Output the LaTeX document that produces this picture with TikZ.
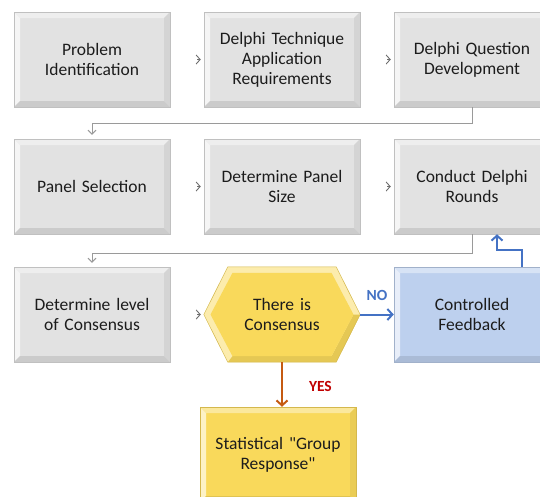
\documentclass[tikz,border=0pt]{standalone}
\usepackage{fontspec}
\setmainfont{Carlito}[Ligatures=TeXOff]
\usetikzlibrary{arrows.meta,calc}
\pgfdeclarelayer{background}
\pgfsetlayers{background,main}

\definecolor{facegray}{HTML}{E2E2E2}
\definecolor{faceyellow}{HTML}{F9D95B}
\definecolor{faceblue}{HTML}{BDD0EE}
\definecolor{linkgray}{HTML}{9A9A9A}
\definecolor{chevgray}{HTML}{6E6E6E}
\definecolor{noblue}{HTML}{4472C4}
\definecolor{yesorange}{HTML}{C55A11}
\definecolor{yesred}{HTML}{C00000}
\definecolor{inktext}{HTML}{1C1C1C}

\tikzset{
  stepbox/.style={rectangle, minimum width=156pt, minimum height=95pt,
    inner sep=2pt, align=center, text width=140pt, text=inktext,
    fill=#1, draw=#1!85!black, line width=0.5pt,
    path picture={
      \path (path picture bounding box.north west) coordinate (bNW)
            (path picture bounding box.north east) coordinate (bNE)
            (path picture bounding box.south west) coordinate (bSW)
            (path picture bounding box.south east) coordinate (bSE);
      % bevelled rim: light top/left, shaded bottom/right
      \fill[#1!60!white] (bNW) -- (bNE) -- ([shift={(-6pt,-6pt)}]bNE)
            -- ([shift={(6pt,-6pt)}]bNW) -- cycle;
      \fill[#1!35!white] (bNW) -- (bSW) -- ([shift={(6pt,6pt)}]bSW)
            -- ([shift={(6pt,-6pt)}]bNW) -- cycle;
      \fill[#1!94!black] (bNE) -- (bSE) -- ([shift={(-6pt,6pt)}]bSE)
            -- ([shift={(-6pt,-6pt)}]bNE) -- cycle;
      \fill[#1!90!black] (bSW) -- (bSE) -- ([shift={(-6pt,6pt)}]bSE)
            -- ([shift={(6pt,6pt)}]bSW) -- cycle;
    }},
  hexbox/.style={rectangle, minimum width=156pt, minimum height=95pt,
    inner sep=2pt, align=center, text width=110pt, text=inktext},
  link/.style={draw=linkgray, line width=0.9pt,
    -{Straight Barb[length=4pt,width=8pt]}},
  chev/.style={draw=chevgray, line width=0.9pt,
    -{Straight Barb[length=4pt,width=9pt]}, shorten <=27pt, shorten >=3pt},
  fb/.style={draw=noblue, line width=2pt,
    -{Straight Barb[length=5pt,width=11pt]}},
  yesarrow/.style={draw=yesorange, line width=2pt,
    -{Straight Barb[length=5pt,width=11pt]}},
  tag/.style={font=\fontsize{15.5}{17}\selectfont\bfseries, inner sep=1pt}
}

\begin{document}
\begin{tikzpicture}[x=1pt,y=-1pt,font=\fontsize{17.5}{20}\selectfont]
\useasboundingbox (0,0) rectangle (540,496);
\clip (0,0) rectangle (540,496);

% first row
\node[stepbox=facegray] (n1) at (92,59.5)  {Problem\\Identification};
\node[stepbox=facegray] (n2) at (282,59.5) {Delphi Technique\\Application\\Requirements};
\node[stepbox=facegray] (n3) at (472,59.5) {Delphi Question\\Development};

% second row
\node[stepbox=facegray] (n4) at (92,186.5)  {Panel Selection};
\node[stepbox=facegray] (n5) at (282,186.5) {Determine Panel\\Size};
\node[stepbox=facegray] (n6) at (472,186.5) {Conduct Delphi\\Rounds};

% third row
\node[stepbox=facegray] (n7) at (92,314.5) {Determine level\\of Consensus};
\node[hexbox] (hex) at (282,314.5) {There is\\Consensus};
\node[stepbox=faceblue] (n9) at (472,314.5) {Controlled\\Feedback};

% outcome
\node[stepbox=faceyellow] (n10) at (278,454.5) {Statistical "Group\\Response"};

% hexagonal decision shape behind its text
\begin{pgfonlayer}{background}
  \path ([xshift=24pt]hex.north west) coordinate (hNW)
        ([xshift=-24pt]hex.north east) coordinate (hNE)
        ([xshift=-24pt]hex.south east) coordinate (hSE)
        ([xshift=24pt]hex.south west) coordinate (hSW)
        ([xshift=6.7pt]hex.west) coordinate (iW)
        ([xshift=-6.7pt]hex.east) coordinate (iE)
        ([shift={(4.7pt,-6pt)}]hNW) coordinate (iNW)
        ([shift={(-4.7pt,-6pt)}]hNE) coordinate (iNE)
        ([shift={(-4.7pt,6pt)}]hSE) coordinate (iSE)
        ([shift={(4.7pt,6pt)}]hSW) coordinate (iSW);
  \fill[faceyellow!50!white] (hex.west) -- (hNW) -- (hNE) -- (hex.east)
        -- (hSE) -- (hSW) -- cycle;
  \fill[faceyellow!92!black] (hex.east) -- (hSE) -- (hSW) -- (iSW)
        -- (iSE) -- (iE) -- cycle;
  \fill[faceyellow] (iW) -- (iNW) -- (iNE) -- (iE) -- (iSE) -- (iSW) -- cycle;
  \draw[faceyellow!85!black, line width=0.5pt] (hex.west) -- (hNW) -- (hNE)
        -- (hex.east) -- (hSE) -- (hSW) -- cycle;
\end{pgfonlayer}

% small step markers inside each row
\draw[chev] (n1) -- (n2);
\draw[chev] (n2) -- (n3);
\draw[chev] (n4) -- (n5);
\draw[chev] (n5) -- (n6);
\draw[chev] (n7) -- (hex);

% row-to-row links
\draw[link, shorten >=4pt] (n3.south) -- ++(0,16) -| (n4.north);
\draw[link, shorten >=4pt] (n6.south) -- ++(0,19) -| (n7.north);

% decision outcomes
\draw[fb] (hex.east) -- (n9.west)
  node[midway, above=12pt, tag, text=noblue] (nolabel) {NO};
\draw[fb] ([xshift=50pt]n9.north) -- ++(0,-17) -| ([xshift=25pt]n6.south);
\draw[yesarrow] (hex.south) -- (hex.south |- n10.north)
  node[pos=0.55, right=25pt, tag, text=yesred] (yeslabel) {YES};
\end{tikzpicture}
\end{document}
